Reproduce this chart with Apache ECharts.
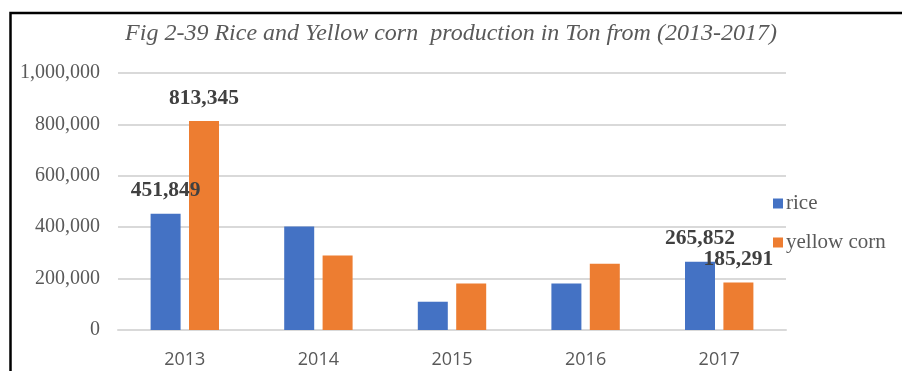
<!DOCTYPE html>
<html>
<head>
<meta charset="utf-8">
<script src="https://cdn.jsdelivr.net/npm/echarts@6/dist/echarts.min.js"></script>
<style>
  html, body { margin: 0; padding: 0; background: #fff; }
  #chart { width: 902px; height: 371px; }
</style>
</head>
<body>
<div id="chart"></div>
<script>
// Rice and yellow corn production (tons), 2013-2017
const years = ['2013', '2014', '2015', '2016', '2017'];
const rice = [451849, 403000, 110000, 181000, 265852];
const yellowCorn = [813345, 290000, 181000, 258000, 185291];
const labelledYears = ['2013', '2017'];
const yTicks = { min: 0, max: 1000000, interval: 200000 };

const fmt = v => Number(v).toLocaleString('en-US');
const serif = '"Liberation Serif", "Times New Roman", serif';

const barLabel = {
  show: true,
  position: 'top',
  distance: 12,
  fontFamily: serif,
  fontWeight: 'bold',
  fontSize: 21.5,
  color: '#404040',
  formatter: p => labelledYears.includes(p.name) ? fmt(p.value) : ''
};

const chart = echarts.init(document.getElementById('chart'), null, { renderer: 'canvas' });
chart.setOption({
  animation: false,
  backgroundColor: '#ffffff',
  graphic: [{
    type: 'rect',
    shape: { x: 10.5, y: 13, width: 1200, height: 1200 },
    style: { fill: 'none', stroke: '#000', lineWidth: 2.5 },
    silent: true
  }],
  title: {
    text: 'Fig 2-39 Rice and Yellow corn  production in Ton from (2013-2017)',
    left: 'center',
    top: 17,
    textStyle: {
      fontFamily: serif,
      fontStyle: 'italic',
      fontWeight: 'normal',
      fontSize: 24,
      color: '#595959'
    }
  },
  legend: {
    orient: 'vertical',
    left: 773,
    top: 193,
    padding: 0,
    itemWidth: 10,
    itemHeight: 10,
    itemGap: 18,
    icon: 'rect',
    textStyle: { fontFamily: serif, fontSize: 21, color: '#595959', padding: [0, 0, 0, -2] },
    data: ['rice', 'yellow corn']
  },
  grid: { left: 118, right: 116, top: 73, bottom: 41, containLabel: false },
  xAxis: {
    type: 'category',
    data: years,
    axisLine: { lineStyle: { color: '#d9d9d9', width: 2 } },
    axisTick: { show: false },
    axisLabel: {
      margin: 21,
      fontFamily: '"Open Sans", sans-serif',
      fontSize: 18,
      color: '#595959'
    }
  },
  yAxis: {
    type: 'value',
    min: yTicks.min,
    max: yTicks.max,
    interval: yTicks.interval,
    axisLine: { show: false },
    axisTick: { show: false },
    splitLine: { lineStyle: { color: '#d9d9d9', width: 2 } },
    axisLabel: {
      margin: 18,
      fontFamily: serif,
      fontSize: 20,
      color: '#595959',
      formatter: v => fmt(v)
    }
  },
  series: [
    {
      name: 'rice',
      type: 'bar',
      data: rice,
      barWidth: 30,
      barGap: '28%',
      itemStyle: { color: '#4472C4' },
      label: barLabel
    },
    {
      name: 'yellow corn',
      type: 'bar',
      data: yellowCorn,
      barWidth: 30,
      itemStyle: { color: '#ED7D31' },
      label: barLabel
    }
  ]
});
</script>
</body>
</html>
